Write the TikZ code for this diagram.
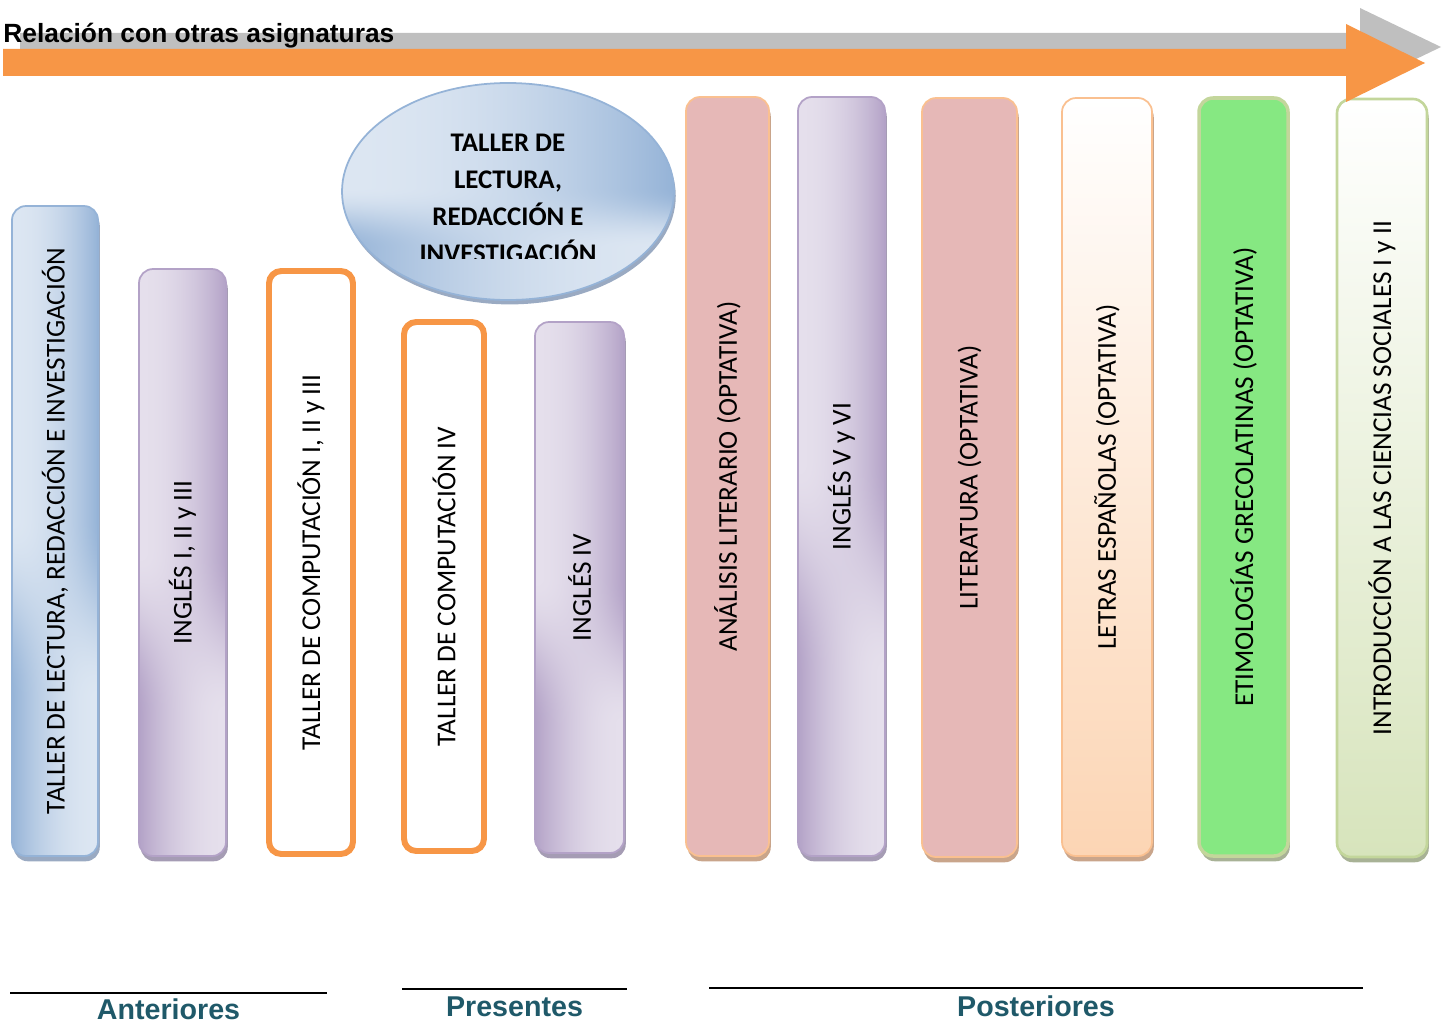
\documentclass[tikz,border=0pt]{standalone}
\usepackage{fontspec}
\usepackage{graphicx}
\setmainfont{Carlito}
\newfontfamily\arialfont{Liberation Sans}
\usetikzlibrary{positioning,shapes.geometric,shadows}

\definecolor{bluelight}{HTML}{DCE6F2}
\definecolor{bluedark}{HTML}{95B3D7}
\definecolor{blueshadow}{HTML}{9AAAC2}
\definecolor{purpledark}{HTML}{B3A2C7}
\definecolor{purpleshadow}{HTML}{A59CB4}
\definecolor{orangemain}{HTML}{F79646}
\definecolor{pinkfill}{HTML}{E6B8B7}
\definecolor{peachborder}{HTML}{FAC090}
\definecolor{peachfill}{HTML}{FCD5B4}
\definecolor{peachshadow}{HTML}{C9A58B}
\definecolor{greenfill}{HTML}{86E882}
\definecolor{limeborder}{HTML}{C3D69B}
\definecolor{limefill}{HTML}{D7E4BC}
\definecolor{limeshadow}{HTML}{A8B296}
\definecolor{arrowgray}{HTML}{BFBFBF}
\definecolor{grouptext}{HTML}{1F5969}

% light/dark twisted shading (dark right at top, dark left at bottom)
\pgfdeclarefunctionalshading{twistblue}{\pgfpoint{0bp}{0bp}}{\pgfpoint{100bp}{100bp}}{}{
  37 sub 14 div dup 0 lt {pop 0} if dup 1 gt {pop 1} if
  dup dup mul exch 2 mul 3 exch sub mul
  exch 25 sub 50 div dup 0 lt {pop 0} if dup 1 gt {pop 1} if
  dup dup mul exch 1 exch sub dup mul
  exch 1 index sub 3 -1 roll mul add
  dup -0.279 mul 0.863 add exch
  dup -0.200 mul 0.902 add exch
  -0.106 mul 0.949 add
}
\pgfdeclarefunctionalshading{twistpurple}{\pgfpoint{0bp}{0bp}}{\pgfpoint{100bp}{100bp}}{}{
  37 sub 14 div dup 0 lt {pop 0} if dup 1 gt {pop 1} if
  dup dup mul exch 2 mul 3 exch sub mul
  exch 25 sub 50 div dup 0 lt {pop 0} if dup 1 gt {pop 1} if
  dup dup mul exch 1 exch sub dup mul
  exch 1 index sub 3 -1 roll mul add
  dup -0.196 mul 0.898 add exch
  dup -0.240 mul 0.875 add exch
  -0.145 mul 0.925 add
}

\tikzset{
  bar/.style={rectangle, rounded corners=8pt, inner sep=0pt, line width=1pt,
    font=\fontsize{15.5}{18}\selectfont},
  barblue/.style={bar, draw=bluedark, shade, shading=twistblue,
    drop shadow={shadow xshift=1pt, shadow yshift=-3pt, fill=blueshadow, opacity=1}},
  barpurple/.style={bar, draw=purpledark, shade, shading=twistpurple,
    drop shadow={shadow xshift=1pt, shadow yshift=-3pt, fill=purpleshadow, opacity=1}},
  barorange/.style={bar, rounded corners=7pt, draw=orangemain, line width=3.4pt, fill=white},
  barpink/.style={bar, draw=peachborder, fill=pinkfill,
    drop shadow={shadow xshift=1pt, shadow yshift=-3pt, fill=peachshadow, opacity=1}},
  barpeach/.style={bar, draw=peachborder, top color=white, bottom color=peachfill,
    drop shadow={shadow xshift=1pt, shadow yshift=-3pt, fill=peachshadow, opacity=1}},
  bargreen/.style={bar, draw=limeborder, line width=2pt, fill=greenfill,
    drop shadow={shadow xshift=1pt, shadow yshift=-3pt, fill=limeshadow, opacity=1}},
  barlime/.style={bar, draw=limeborder, line width=1.5pt, top color=white, bottom color=limefill,
    drop shadow={shadow xshift=1pt, shadow yshift=-3pt, fill=limeshadow, opacity=1}},
  rule/.style={line width=1.4pt},
  grp/.style={inner sep=0pt, anchor=north, text=grouptext,
    font=\arialfont\bfseries\fontsize{16.3}{18}\selectfont}
}

\begin{document}
\begin{tikzpicture}[x=0.02cm, y=-0.02cm]
  \useasboundingbox (0,0) rectangle (1449,1024);

  % subject bars
  \foreach \name/\cx/\cy/\w/\h/\sty/\txt in {
      tlri/55/531/86/650/barblue/{TALLER DE LECTURA, REDACCIÓN E INVESTIGACIÓN},
      ingA/182.5/562.5/87/587/barpurple/{INGLÉS I, II y III},
      compA/311/562.5/84/583/barorange/{TALLER DE COMPUTACIÓN I, II y III},
      compB/444/586.5/80/529/barorange/{TALLER DE COMPUTACIÓN IV},
      ingB/579.5/587.5/89/531/barpurple/{INGLÉS IV},
      anal/727.5/476.5/83/759/barpink/{ANÁLISIS LITERARIO (OPTATIVA)},
      ingC/841.5/476.5/87/759/barpurple/{INGLÉS V y VI},
      lit/969.5/477.5/95/759/barpink/{LITERATURA (OPTATIVA)},
      letr/1107/477/90/758/barpeach/{LETRAS ESPAÑOLAS (OPTATIVA)},
      etim/1243.5/477/89/758/bargreen/{ETIMOLOGÍAS GRECOLATINAS (OPTATIVA)},
      intro/1382/478/90/758/barlime/{INTRODUCCIÓN A LAS CIENCIAS SOCIALES I y II}} {
    \node[\sty, minimum width=\w*0.02cm, minimum height=\h*0.02cm] (\name) at (\cx,\cy)
      {\rotatebox{90}{\txt}};
  }

  % present subject, ellipse
  \node[ellipse, draw=bluedark, line width=1pt, shade, shading=twistblue,
    minimum width=332*0.02cm, minimum height=217*0.02cm,
    drop shadow={shadow xshift=1pt, shadow yshift=-2.5pt, fill=blueshadow, opacity=1}]
    (tlriell) at (508,191.5) {};
  \begin{scope}
    \clip (380,120) rectangle (640,258);
    \node[anchor=north, align=center, inner sep=0pt,
      font=\bfseries\fontsize{15.3}{21}\selectfont] (tlritxt) at (508,134)
      {TALLER DE\\LECTURA,\\REDACCIÓN E\\INVESTIGACIÓN};
  \end{scope}

  % arrows
  \fill[arrowgray] (20,33) -- (1360,33) -- (1360,8) -- (1441,47) -- (1360,86)
    -- (1360,61) -- (20,61) -- cycle;
  \fill[orangemain] (3,49) -- (1346,49) -- (1346,24) -- (1425,63) -- (1346,102)
    -- (1346,76) -- (3,76) -- cycle;
  \node[anchor=base west, inner sep=0pt, font=\arialfont\bfseries\fontsize{15}{18}\selectfont]
    (title) at (3,43) {Relación con otras asignaturas};

  % groups
  \coordinate (antL) at (10,993);
  \coordinate (antR) at (327,993);
  \draw[rule] (antL) -- (antR) coordinate[midway] (antM);
  \node[grp, below=0.1cm of antM] (ant) {Anteriores};

  \coordinate (preL) at (402,989);
  \coordinate (preR) at (627,989);
  \draw[rule] (preL) -- (preR) coordinate[midway] (preM);
  \node[grp, below=0.14cm of preM] (pre) {Presentes};

  \coordinate (posL) at (709,988);
  \coordinate (posR) at (1363,988);
  \draw[rule] (posL) -- (posR) coordinate[midway] (posM);
  \node[grp, below=0.14cm of posM] (pos) {Posteriores};
\end{tikzpicture}
\end{document}
